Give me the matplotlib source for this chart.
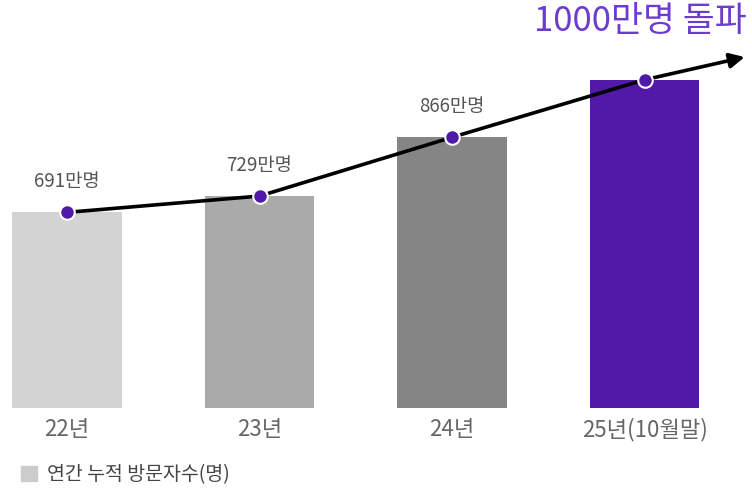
import matplotlib
matplotlib.use("Agg")
import matplotlib.pyplot as plt
from matplotlib.patches import Patch

plt.rcParams['font.family'] = ['Noto Sans CJK KR', 'DejaVu Sans']

years = ["22년", "23년", "24년", "25년(10월말)"]
visitors = [691, 729, 866, 1000]          # 만명
value_labels = ["691만명", "729만명", "866만명"]
headline = "1000만명 돌파"
legend_label = "연간 누적 방문자수(명)"
bar_colors = ["#d3d3d3", "#aaaaaa", "#858585", "#5219a8"]

fig = plt.figure(figsize=(7.52, 4.88), dpi=100)
ax = fig.add_axes([0, 1 - 408 / 488, 1, 408 / 488])
x = list(range(len(years)))

ax.bar(x, visitors, width=0.57, color=bar_colors, zorder=1)

# trend line through the bar tops plus arrow
ax.plot(x, visitors, color="black", lw=2.6, zorder=2, solid_capstyle="round")
ax.annotate("", xy=(3.52, 1053), xytext=(x[-1], visitors[-1]),
            arrowprops=dict(arrowstyle="-|>", color="black", lw=2.6,
                            mutation_scale=22, shrinkA=0, shrinkB=0), zorder=2)
ax.scatter(x, visitors, s=110, color="#4e1aa6", edgecolor="white",
           linewidth=1.5, zorder=3)

for i, lab in enumerate(value_labels):
    ax.annotate(lab, (x[i], visitors[i]), xytext=(0, 22), textcoords="offset points",
                ha="center", va="center", fontsize=13.5, color="#555555")

fig.text(640 / 752, 1 - 22 / 488, headline, ha="center", va="center",
         fontsize=25, color="#6c3ccf")

ax.set_xlim(-0.348, 3.558)
ax.set_ylim(235, 1186)
ax.set_xticks(x)
ax.set_xticklabels(years, fontsize=16, color="#666666")
ax.tick_params(axis="x", length=0, pad=7)
ax.set_yticks([])
for s in ax.spines.values():
    s.set_visible(False)

fig.legend(handles=[Patch(color="#cccccc")], labels=[legend_label],
           loc="center left", bbox_to_anchor=(0.005, 1 - 475 / 488),
           frameon=False, handlelength=0.8, handleheight=0.8, handletextpad=0.5,
           prop={"size": 14}, labelcolor="#444444")

fig.savefig("out.png", dpi=100)
